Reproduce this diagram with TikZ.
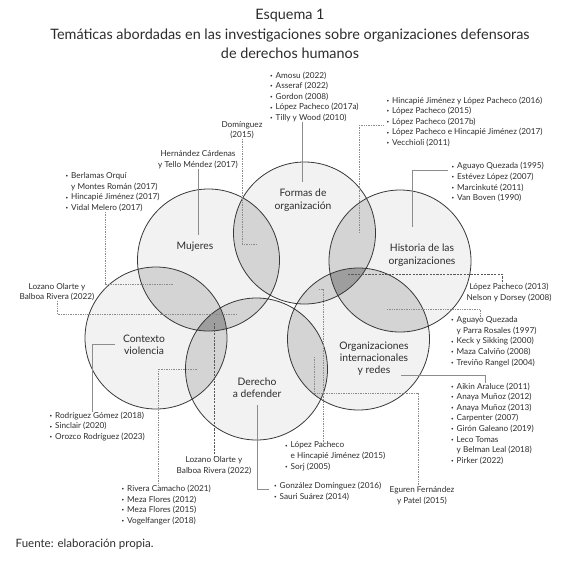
\documentclass[tikz,border=0pt]{standalone}
\usepackage{fontspec}
\setmainfont{Lato}
\usepackage{tikz}
\usepackage{xcolor}
\usetikzlibrary{positioning, calc}
\definecolor{ringfill}{HTML}{F2F2F2}
\definecolor{lensfill}{HTML}{D4D4D4}
\definecolor{corefill}{HTML}{9E9E9E}
\definecolor{ringline}{HTML}{383838}
\definecolor{txtgray}{HTML}{2C2C2C}
\definecolor{leadgray}{HTML}{8C8C8C}
\tikzstyle{ring} = [fill=ringfill]
\tikzstyle{topic} = [align=center, inner sep=0pt, font=\fontsize{10.3}{12.3}\selectfont, text=txtgray]
\tikzstyle{refs} = [align=left, anchor=north west, inner sep=0pt, font=\fontsize{8.2}{10.6}\selectfont, text=txtgray]
\tikzstyle{refc} = [align=center, inner sep=0pt, font=\fontsize{8.2}{10.4}\selectfont, text=txtgray]
\tikzstyle{lead} = [leadgray, line width=0.6pt]
\tikzstyle{leaddot} = [leadgray, line width=0.7pt, densely dotted]
\tikzstyle{leaddash} = [black!65, line width=0.7pt, dash pattern=on 2.2pt off 1.2pt]
\newcommand{\itm}{\makebox[5.5pt][l]{\raisebox{0.8pt}{\fontsize{4.5}{5}\selectfont\textbullet}}}
\newcommand{\ind}{\hspace*{5.5pt}}
\def\rr{71pt}

\begin{document}
\begin{tikzpicture}[x=1pt, y=-1pt]
    \useasboundingbox (0,0) rectangle (580,571);

    % centres of the six topics
    \coordinate (mu) at (208.5,260);
    \coordinate (fo) at (304.5,233);
    \coordinate (hi) at (400,261);
    \coordinate (oi) at (358.5,339);
    \coordinate (de) at (256.5,369);
    \coordinate (cv) at (156,338);

    \fill[ring] (mu) circle (\rr);
    \fill[ring] (fo) circle (\rr);
    \fill[ring] (hi) circle (\rr);
    \fill[ring] (oi) circle (\rr);
    \fill[ring] (de) circle (\rr);
    \fill[ring] (cv) circle (\rr);

    % pairwise overlaps
    \begin{scope} \clip (mu) circle (\rr); \fill[lensfill] (fo) circle (\rr); \end{scope}
    \begin{scope} \clip (fo) circle (\rr); \fill[lensfill] (hi) circle (\rr); \end{scope}
    \begin{scope} \clip (hi) circle (\rr); \fill[lensfill] (oi) circle (\rr); \end{scope}
    \begin{scope} \clip (oi) circle (\rr); \fill[lensfill] (de) circle (\rr); \end{scope}
    \begin{scope} \clip (de) circle (\rr); \fill[lensfill] (cv) circle (\rr); \end{scope}
    \begin{scope} \clip (cv) circle (\rr); \fill[lensfill] (mu) circle (\rr); \end{scope}
    \begin{scope} \clip (mu) circle (\rr); \fill[lensfill] (de) circle (\rr); \end{scope}
    \begin{scope} \clip (fo) circle (\rr); \fill[lensfill] (oi) circle (\rr); \end{scope}
    % triple overlaps
    \begin{scope} \clip (mu) circle (\rr); \clip (cv) circle (\rr); \fill[corefill] (de) circle (\rr); \end{scope}
    \begin{scope} \clip (fo) circle (\rr); \clip (hi) circle (\rr); \fill[corefill] (oi) circle (\rr); \end{scope}

    \draw[ringline, line width=0.8pt] (mu) circle (\rr) (fo) circle (\rr) (hi) circle (\rr)
        (oi) circle (\rr) (de) circle (\rr) (cv) circle (\rr);

    \node (title) [align=center, text=txtgray, font=\fontsize{14.4}{19.6}\selectfont] at (290,34)
        {Esquema 1\\Temáticas abordadas en las investigaciones sobre organizaciones defensoras\\de derechos humanos};

    \node (tfo) [topic] at (303,200) {Formas de\\organización};
    \node (tmu) [topic] at (195,247) {Mujeres};
    \node (thi) [topic] at (422,255) {Historia de las\\organizaciones};
    \node (tcv) [topic] at (144,345) {Contexto\\violencia};
    \node (tde) [topic] at (257,388) {Derecho\\a defender};
    \node (toi) [topic] at (374,358.5) {Organizaciones\\internacionales\\y redes};

    \node (fol) [refs] at (270,71.5) {\itm Amosu (2022)\\\itm Asseraf (2022)\\\itm Gordon (2008)\\\itm López Pacheco (2017a)\\\itm Tilly y Wood (2010)};
    \node (hinc) [refs] at (386.5,96.5) {\itm Hincapié Jiménez y López Pacheco (2016)\\\itm López Pacheco (2015)\\\itm López Pacheco (2017b)\\\itm López Pacheco e Hincapié Jiménez (2017)\\\itm Vecchioli (2011)};
    \node (hil) [refs] at (451.5,162.4) {\itm Aguayo Quezada (1995)\\\itm Estévez López (2007)\\\itm Marcinkuté (2011)\\\itm Van Boven (1990)};
    \node (berl) [refs] at (65.5,172.5) {\itm Berlamas Orquí\\\ind y Montes Román (2017)\\\itm Hincapié Jiménez (2017)\\\itm Vidal Melero (2017)};
    \node (aqp) [refs] at (451,316.5) {\itm Aguayo Quezada\\\ind y Parra Rosales (1997)\\\itm Keck y Sikking (2000)\\\itm Maza Calviño (2008)\\\itm Treviño Rangel (2004)};
    \node (ail) [refs] at (451,382.5) {\itm Aikin Araluce (2011)\\\itm Anaya Muñoz (2012)\\\itm Anaya Muñoz (2013)\\\itm Carpenter (2007)\\\itm Girón Galeano (2019)\\\itm Leco Tomas\\\ind y Belman Leal (2018)\\\itm Pirker (2022)};
    \node (cvl) [refs] at (49.5,411.7) {\itm Rodríguez Gómez (2018)\\\itm Sinclair (2020)\\\itm Orozco Rodríguez (2023)};
    \node (lph) [refs] at (285,441.7) {\itm López Pacheco\\\ind e Hincapié Jiménez (2015)\\\itm Sorj (2005)};
    \node (del) [refs] at (274,482) {\itm González Domínguez (2016)\\\itm Sauri Suárez (2014)};
    \node (riv) [refs] at (121.5,485) {\itm Rivera Camacho (2021)\\\itm Meza Flores (2012)\\\itm Meza Flores (2015)\\\itm Vogelfanger (2018)};

    \node (dom) [refc] at (242,130) {Domínguez\\(2015)};
    \node (hern) [refc] at (198,159.5) {Hernández Cárdenas\\y Tello Méndez (2017)};
    \node (lozl) [refc] at (57,292) {Lozano Olarte y\\Balboa Rivera (2022)};
    \node (lp13) [refc] at (509,292.5) {López Pacheco (2013)\\Nelson y Dorsey (2008)};
    \node (lozb) [refc] at (214,465.5) {Lozano Olarte y\\Balboa Rivera (2022)};
    \node (egu) [refc] at (422,495.5) {Eguren Fernández\\y Patel (2015)};

    \node (src) [anchor=west, text=txtgray, font=\fontsize{11.5}{13}\selectfont, inner sep=0pt] at (15.5,544) {Fuente: elaboración propia.};

    % end points of the leaders inside the circles
    \coordinate (p-mufo) at (257,244);
    \coordinate (p-mu) at (198,235);
    \coordinate (p-fo) at (302,182);
    \coordinate (p-fohi) at (359,233);
    \coordinate (p-hi) at (412,227);
    \coordinate (p-mucv) at (173,284);
    \coordinate (p-mude) at (237,314);
    \coordinate (p-cv) at (115,344);
    \coordinate (p-cvde) at (197,369);
    \coordinate (p-t1) at (214,323);
    \coordinate (p-de) at (257,405);
    \coordinate (p-fooi) at (319,289);
    \coordinate (p-deoi) at (314,357);
    \coordinate (k-egu) at (418,393);
    \coordinate (p-t2) at (348,274);
    \coordinate (p-hioi) at (387,309);
    \coordinate (p-oi) at (401,375);

    \draw[leaddot] (dom.south) |- (p-mufo);
    \draw[lead] (hern.south) -- (p-mu);
    \draw[lead] (p-fo |- fol.south) -- (p-fo);
    \draw[leaddot] ([xshift=-3pt,yshift=-4pt]hinc.west) -| (p-fohi);
    \draw[lead] ([xshift=-4pt,yshift=-7.5pt]hil.north west) -| (p-hi);
    \draw[leaddot] ([xshift=39.5pt]berl.south west) |- (p-mucv);
    \draw[leaddot] (lozl.south) |- (p-mude);
    \draw[lead] (p-cv) -| ([xshift=42.5pt]cvl.north west);
    \draw[leaddot] (p-cvde) -| ([xshift=36.5pt]riv.north west);
    \draw[leaddash] (p-t1) -- (lozb.north);
    \draw[lead] (p-de) |- ([xshift=-5pt,yshift=2pt]del.west);
    \draw[leaddot] (p-fooi) -| ([xshift=38pt]lph.north west);
    \draw[leaddot] (p-deoi) |- (k-egu) -- (k-egu |- egu.north);
    \draw[leaddash] (p-t2) -| ([xshift=-7pt]lp13.north);
    \draw[leaddot] (p-hioi) -| ([xshift=29pt]aqp.north west);
    \draw[lead] (p-oi) -| ([xshift=34pt]ail.north west);
\end{tikzpicture}
\end{document}
